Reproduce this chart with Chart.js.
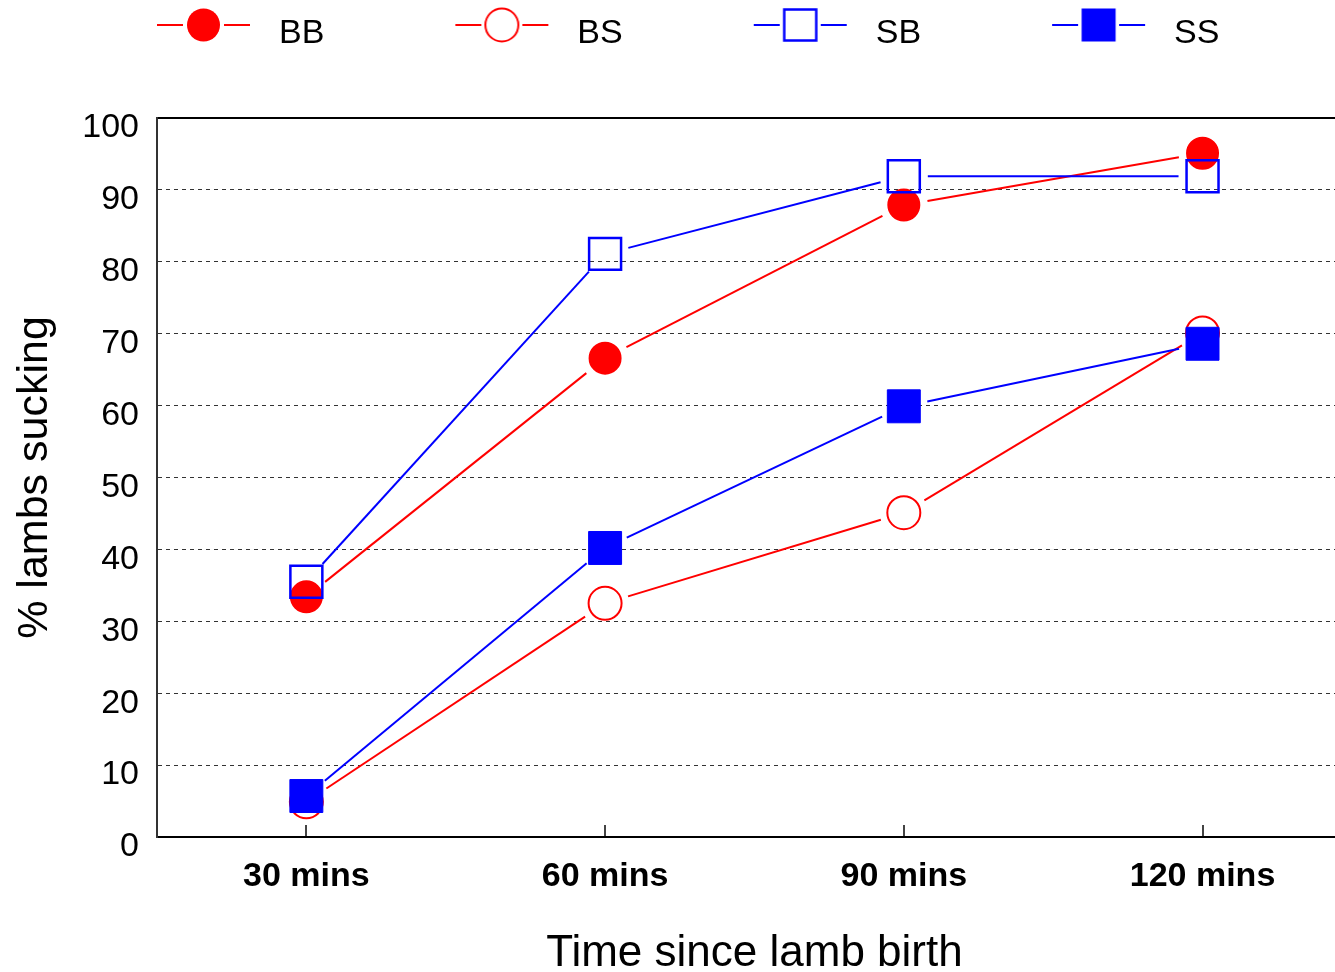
<!DOCTYPE html>
<html>
<head>
<meta charset="utf-8">
<script src="https://cdn.jsdelivr.net/npm/chart.js@4.4.1/dist/chart.umd.min.js"></script>
<style>
html,body{margin:0;padding:0;background:#fff;overflow:hidden;}
#wrap{width:1377px;height:972px;position:relative;}
canvas{display:block;}
</style>
</head>
<body>
<div id="wrap"><canvas id="c" width="1377" height="972" style="width:1377px;height:972px;"></canvas></div>
<script>
// ---- data ----
const categories = ['30 mins', '60 mins', '90 mins', '120 mins'];
const seriesNames = ['BB', 'BS', 'SB', 'SS'];
const bbValues = [33.4, 66.6, 87.9, 95.1];
const bsValues = [4.9, 32.5, 45.1, 70.1];
const sbValues = [35.5, 81.1, 91.9, 91.9];
const ssValues = [5.7, 40.2, 59.9, 68.6];
const yTickValues = [0, 10, 20, 30, 40, 50, 60, 70, 80, 90, 100];
const xTitle = 'Time since lamb birth';
const yTitle = '% lambs sucking';

const FAMILY = '"Liberation Sans", Arial, Helvetica, sans-serif';
Chart.defaults.font.family = FAMILY;
const RED = '#ff0000';
const BLUE = '#0000ff';
const GAP = 24;

function segLen(c) { return Math.hypot(c.p1.x - c.p0.x, c.p1.y - c.p0.y); }
const gapSegment = {
  borderDash: c => { const L = segLen(c); return [Math.max(L - 2 * GAP, 0.01), 2 * GAP]; },
  borderDashOffset: c => segLen(c) - GAP
};

function makeLegendImage(color, shape, filled) {
  const cv = document.createElement('canvas');
  cv.width = 226; cv.height = 60;
  const g = cv.getContext('2d');
  const L = 121, cy = 21, cx = L + 46.5;
  g.strokeStyle = color; g.fillStyle = color; g.lineWidth = 2;
  g.beginPath(); g.moveTo(L, cy); g.lineTo(L + 26, cy); g.moveTo(L + 67, cy); g.lineTo(L + 93, cy); g.stroke();
  if (shape === 'circle') {
    g.beginPath(); g.arc(cx, cy, 16.5, 0, Math.PI * 2);
    if (filled) g.fill(); else { g.lineWidth = 2; g.stroke(); }
  } else {
    if (filled) g.fillRect(cx - 17, cy - 16.5, 34, 33);
    else { g.lineWidth = 2.5; g.strokeRect(cx - 16, cy - 15.5, 32, 31); }
  }
  return cv;
}
const legendImages = [
  makeLegendImage(RED, 'circle', true),
  makeLegendImage(RED, 'circle', false),
  makeLegendImage(BLUE, 'rect', false),
  makeLegendImage(BLUE, 'rect', true)
];

const datasets = [
  { label: seriesNames[0], data: bbValues, borderColor: RED, backgroundColor: RED, borderWidth: 2,
    pointStyle: 'circle', pointRadius: 15.5, pointBorderWidth: 2, pointBackgroundColor: RED, pointBorderColor: RED,
    order: 4, segment: gapSegment },
  { label: seriesNames[1], data: bsValues, borderColor: RED, backgroundColor: RED, borderWidth: 2,
    pointStyle: 'circle', pointRadius: 16.5, pointBorderWidth: 2, pointBackgroundColor: 'rgba(255,255,255,0)', pointBorderColor: RED,
    order: 3, segment: gapSegment },
  { label: seriesNames[2], data: sbValues, borderColor: BLUE, backgroundColor: BLUE, borderWidth: 2,
    pointStyle: 'rect', pointRadius: 22.6, pointBorderWidth: 2.5, pointBackgroundColor: 'rgba(255,255,255,0)', pointBorderColor: BLUE,
    order: 2, segment: gapSegment },
  { label: seriesNames[3], data: ssValues, borderColor: BLUE, backgroundColor: BLUE, borderWidth: 2,
    pointStyle: 'rect', pointRadius: 23.3, pointBorderWidth: 1, pointBackgroundColor: BLUE, pointBorderColor: BLUE,
    order: 1, segment: gapSegment }
];

new Chart(document.getElementById('c'), {
  type: 'line',
  data: { labels: categories, datasets: datasets },
  options: {
    responsive: false,
    maintainAspectRatio: false,
    devicePixelRatio: 1,
    animation: false,
    events: [],
    layout: { padding: { top: 7, left: 26, right: 9, bottom: 0 } },
    plugins: {
      tooltip: { enabled: false },
      legend: {
        display: true,
        position: 'top',
        align: 'start',
        labels: {
          usePointStyle: true,
          pointStyleWidth: 226,
          padding: 10,
          color: '#000',
          font: { size: 34, family: FAMILY },
          generateLabels: chart => chart.data.datasets.map((ds, i) => ({
            text: ds.label, pointStyle: legendImages[i], datasetIndex: i, hidden: false,
            lineWidth: 0, strokeStyle: 'rgba(0,0,0,0)', fillStyle: 'rgba(0,0,0,0)', fontColor: '#000'
          }))
        }
      }
    },
    scales: {
      x: {
        type: 'category',
        position: 'bottom',
        offset: true,
        grid: { display: true, drawOnChartArea: false, drawTicks: true, tickLength: -12, color: '#444', lineWidth: 2 },
        border: { display: true, color: '#000', width: 2 },
        ticks: { color: '#000', font: { size: 34, weight: 'bold', family: FAMILY }, padding: 31, maxRotation: 0, autoSkip: false },
        title: { display: true, text: xTitle, color: '#000', font: { size: 44, family: FAMILY }, padding: { top: 0, bottom: -8 } },
        afterFit: s => { s.height = 135; }
      },
      x2: {
        type: 'category',
        position: 'top',
        offset: true,
        ticks: { display: false },
        grid: { display: false, drawTicks: false },
        border: { display: true, color: '#000', width: 2 },
        afterFit: s => { s.height = 57; }
      },
      y: {
        type: 'linear',
        min: 0,
        max: 100,
        afterBuildTicks: s => { s.ticks = yTickValues.map(v => ({ value: v })); },
        grid: {
          drawTicks: false,
          lineWidth: 1,
          color: c => (c.tick && (c.tick.value === 0 || c.tick.value === 100)) ? 'rgba(0,0,0,0)' : '#333'
        },
        border: { display: true, color: '#333', width: 2, dash: [4, 4] },
        ticks: { color: '#000', font: { size: 34, family: FAMILY }, padding: 18, labelOffset: 10 },
        title: { display: true, text: yTitle, color: '#000', font: { size: 43, family: FAMILY }, padding: { top: -17, bottom: 0 } },
        afterFit: s => { s.width = 131; }
      }
    }
  }
});
</script>
</body>
</html>
